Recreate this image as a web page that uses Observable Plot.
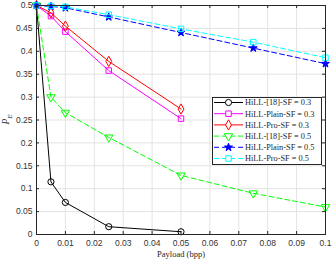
<!DOCTYPE html>
<html><head><meta charset="utf-8">
<script src="https://cdn.jsdelivr.net/npm/d3@7"></script>
<script src="https://cdn.jsdelivr.net/npm/@observablehq/plot@0.6"></script>
<style>
html,body{margin:0;padding:0;background:#fff;}
#wrap{position:relative;width:332px;height:262px;}
#legend{position:absolute;left:212px;top:97px;}
</style></head><body><div id="wrap"></div>
<script>
// ---- data ----
const payloadShort = [0, 0.005, 0.01, 0.025, 0.05];
const payloadLong = [0, 0.005, 0.01, 0.025, 0.05, 0.075, 0.1];
const hill18_03 = [0.5, 0.115, 0.070, 0.017, 0.006];
const plain_03 = [0.5, 0.477, 0.443, 0.358, 0.253];
const pro_03 = [0.5, 0.484, 0.455, 0.378, 0.274];
const hill18_05 = [0.5, 0.300, 0.266, 0.212, 0.129, 0.090, 0.060];
const plain_05 = [0.5, 0.498, 0.495, 0.475, 0.441, 0.407, 0.373];
const pro_05 = [0.5, 0.499, 0.497, 0.480, 0.449, 0.420, 0.386];
const seriesNames = ["HiLL-[18]-SF = 0.3", "HiLL-Plain-SF = 0.3", "HiLL-Pro-SF = 0.3",
                     "HiLL-[18]-SF = 0.5", "HiLL-Plain-SF = 0.5", "HiLL-Pro-SF = 0.5"];
const xTicks = [0, 0.01, 0.02, 0.03, 0.04, 0.05, 0.06, 0.07, 0.08, 0.09, 0.1];
const xTickLabels = ["0", "0.01", "0.02", "0.03", "0.04", "0.05", "0.06", "0.07", "0.08", "0.09", "0.1"];
const yTicks = [0, 0.05, 0.1, 0.15, 0.2, 0.25, 0.3, 0.35, 0.4, 0.45, 0.5];
const yTickLabels = ["0", "0.05", "0.1", "0.15", "0.2", "0.25", "0.3", "0.35", "0.4", "0.45", "0.5"];
const xLabel = "Payload (bpp)";

// ---- styling ----
const styles = [
  {color: "#000000", symbol: "circle", rotate: 0, dash: null},
  {color: "#ff00ff", symbol: "square", rotate: 0, dash: null},
  {color: "#ff0000", symbol: "diamond", rotate: 0, dash: null},
  {color: "#00ff00", symbol: "triangle", rotate: 180, dash: "5,3"},
  {color: "#0000ff", symbol: "star", rotate: 0, dash: "5,3"},
  {color: "#00ffff", symbol: "square", rotate: 0, dash: "5,3"}
];
const seriesX = [payloadShort, payloadShort, payloadShort, payloadLong, payloadLong, payloadLong];
const seriesY = [hill18_03, plain_03, pro_03, hill18_05, plain_05, pro_05];

const W = 332, H = 262, mL = 36, mR = 7, mT = 5, mB = 28;
const innerW = W - mL - mR, innerH = H - mT - mB;
const axisColor = "#262626";
const gridColor = "#e3e3e3";
const xLabMap = new Map(xTicks.map((t, i) => [t, xTickLabels[i]]));
const yLabMap = new Map(yTicks.map((t, i) => [t, yTickLabels[i]]));
const symR = s => s === "star" ? 2.5 : 3.1;

const dataMarks = [];
seriesNames.forEach((name, k) => {
  const pts = seriesX[k].map((x, i) => ({x, y: seriesY[k][i]}));
  const s = styles[k];
  dataMarks.push(Plot.line(pts, {x: "x", y: "y", stroke: s.color, strokeWidth: 1, strokeDasharray: s.dash}));
  dataMarks.push(Plot.dot(pts, {x: "x", y: "y", stroke: s.color, strokeWidth: 1, fill: s.symbol === "star" ? s.color : "none", symbol: () => s.symbol, r: symR(s.symbol), rotate: s.rotate}));
});

const chart = Plot.plot({
  width: W, height: H,
  marginLeft: mL, marginRight: mR, marginTop: mT, marginBottom: mB,
  style: {fontFamily: "'Liberation Sans', Arial, Helvetica, sans-serif", fontSize: "8.5px", color: "#333", background: "#fff"},
  x: {domain: [0, 0.1], label: null},
  y: {domain: [0, 0.5], label: null},
  symbol: {type: "identity"},
  marks: [
    Plot.gridX(xTicks, {stroke: gridColor, strokeOpacity: 1}),
    Plot.gridY(yTicks, {stroke: gridColor, strokeOpacity: 1}),
    Plot.axisX(xTicks, {tickSize: 0, tickPadding: 5, tickFormat: d => xLabMap.get(d), label: null}),
    Plot.axisY(yTicks, {tickSize: 0, tickPadding: 4, tickFormat: d => yLabMap.get(d), label: null}),
    Plot.tickX(xTicks, {x: d => d, insetTop: innerH - 3, stroke: axisColor}),
    Plot.tickX(xTicks, {x: d => d, insetBottom: innerH - 3, stroke: axisColor}),
    Plot.tickY(yTicks, {y: d => d, insetRight: innerW - 3, stroke: axisColor}),
    Plot.tickY(yTicks, {y: d => d, insetLeft: innerW - 3, stroke: axisColor}),
    ...dataMarks,
    Plot.frame({stroke: axisColor, strokeWidth: 1}),
    Plot.text([xLabel], {frameAnchor: "bottom", dy: 22, fontFamily: "'Liberation Serif', 'Times New Roman', serif", fontSize: 8.5, fill: "#262626"})
  ]
});
document.getElementById("wrap").appendChild(chart);

// y axis label P_E
const svg = d3.select(chart);
const yl = svg.append("text")
  .attr("transform", `translate(9,${mT + innerH / 2}) rotate(-90)`)
  .attr("text-anchor", "middle")
  .attr("font-family", "'Liberation Serif', 'Times New Roman', serif")
  .attr("font-style", "italic")
  .attr("font-size", 9.5)
  .attr("fill", "#262626");
yl.append("tspan").text("P");
yl.append("tspan").attr("font-size", 7).attr("dy", 2.5).text("E");

// legend
const LW = 110, LH = 68, rowH = 11.2;
const leg = d3.select("#wrap").append("svg").attr("id", "legend").attr("width", LW + 1).attr("height", LH + 1);
leg.append("rect").attr("x", 0.5).attr("y", 0.5).attr("width", LW - 1).attr("height", LH - 1)
  .attr("fill", "#fff").attr("stroke", axisColor).attr("stroke-width", 1);
const symMap = {circle: d3.symbolCircle, square: d3.symbolSquare, diamond: d3.symbolDiamond, triangle: d3.symbolTriangle, star: d3.symbolStar};
seriesNames.forEach((name, k) => {
  const s = styles[k];
  const cy = 5.5 + k * rowH;
  const g = leg.append("g").attr("transform", `translate(0,${cy})`);
  g.append("line").attr("x1", 2).attr("x2", 31).attr("y1", 0).attr("y2", 0)
    .attr("stroke", s.color).attr("stroke-width", 1).attr("stroke-dasharray", s.dash);
  const r = symR(s.symbol);
  g.append("path").attr("d", d3.symbol(symMap[s.symbol], Math.PI * r * r)())
    .attr("transform", `translate(16.5,0) rotate(${s.rotate})`)
    .attr("fill", s.symbol === "star" ? s.color : "#fff").attr("stroke", s.color).attr("stroke-width", 1);
  g.append("text").attr("x", 33).attr("y", 0).attr("dy", "0.35em")
    .attr("font-family", "'Liberation Serif', 'Times New Roman', serif").attr("font-size", 8.3)
    .attr("fill", "#262626").text(name);
});
</script></body></html>
